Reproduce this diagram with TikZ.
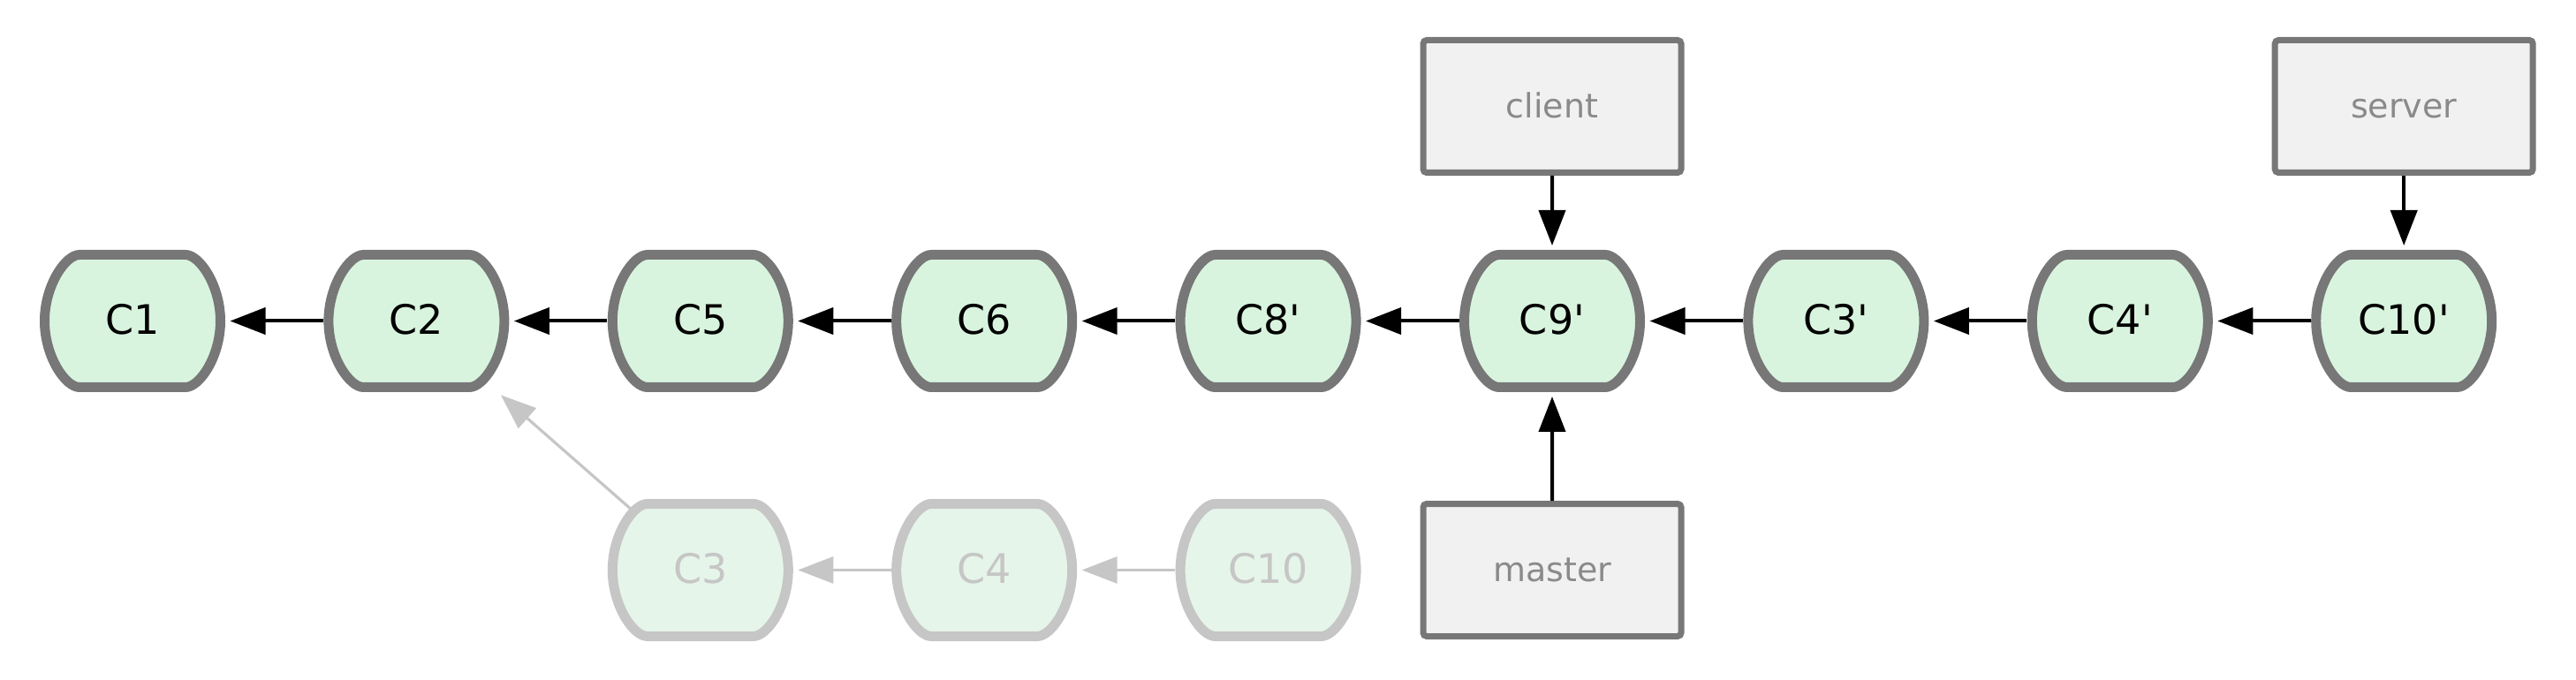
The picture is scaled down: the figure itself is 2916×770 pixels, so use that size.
\documentclass[tikz,border=0pt]{standalone}
\usepackage{fontspec}
\setmainfont{DejaVu Sans}
\usetikzlibrary{arrows.meta}

\definecolor{commitfill}{HTML}{D9F4DE}
\definecolor{commitline}{HTML}{777777}
\definecolor{ghostfill}{HTML}{E6F5E9}
\definecolor{ghostline}{HTML}{C6C6C6}
\definecolor{branchfill}{HTML}{F1F1F1}
\definecolor{branchtext}{HTML}{8A8A8A}

\begin{document}
\begin{tikzpicture}[x=0.25pt, y=-0.25pt,
  commit/.style={rectangle, minimum width=52.75pt, minimum height=40.25pt, inner sep=0pt, outer sep=0pt,
    text height=1.55ex, text depth=0.2ex, font=\fontsize{11.5}{13}\selectfont},
  ghost/.style={commit, text=ghostline},
  barrel/.style={draw=commitline, fill=commitfill, line width=2.75pt, line join=round},
  ghostbarrel/.style={barrel, draw=ghostline, fill=ghostfill},
  branch/.style={rectangle, rounded corners=1pt, draw=commitline, fill=branchfill, line width=1.75pt,
    minimum width=73pt, minimum height=37.5pt, text=branchtext, text height=1.5ex, text depth=0.3ex,
    font=\fontsize{9.5}{11}\selectfont},
  parent/.style={-{Triangle[length=10pt,width=7.5pt]}, line width=1pt, shorten >=1.25pt},
  ghostparent/.style={parent, color=ghostline, line width=0.8pt},
]

\useasboundingbox (0,0) rectangle (2916,770);

% rebased line
\foreach \n/\t [count=\i from 0] in {c1/C1, c2/C2, c5/C5, c6/C6, c8p/C8\textquotesingle, c9p/C9\textquotesingle,
    c3p/C3\textquotesingle, c4p/C4\textquotesingle, c10p/C10\textquotesingle} {
\filldraw[barrel, shift={(150+321.4*\i, 363.5)}] (-60,-75) -- (60,-75)
  .. controls (76,-75) and (99.5,-40) .. (99.5,0) .. controls (99.5,40) and (76,75) .. (60,75)
  -- (-60,75) .. controls (-76,75) and (-99.5,40) .. (-99.5,0) .. controls (-99.5,-40) and (-76,-75) .. cycle;
\node[commit] (\n) at (150+321.4*\i, 363.5) {\t};
}

\foreach \a/\b in {c2/c1, c5/c2, c6/c5, c8p/c6, c9p/c8p, c3p/c9p, c4p/c3p, c10p/c4p} {
\path[parent] (\a) edge (\b);
}

% old commits
\foreach \n/\t [count=\i from 2] in {g3/C3, g4/C4, g10/C10} {
\filldraw[ghostbarrel, shift={(150+321.4*\i, 645.5)}] (-60,-75) -- (60,-75)
  .. controls (76,-75) and (99.5,-40) .. (99.5,0) .. controls (99.5,40) and (76,75) .. (60,75)
  -- (-60,75) .. controls (-76,75) and (-99.5,40) .. (-99.5,0) .. controls (-99.5,-40) and (-76,-75) .. cycle;
\node[ghost] (\n) at (150+321.4*\i, 645.5) {\t};
}

\path[ghostparent] (g3) edge[shorten <=-4pt] (c2);
\path[ghostparent] (g4) edge (g3);
\path[ghostparent] (g10) edge (g4);

% branches
\node[branch] (client) at (1757, 120.5) {client};
\node[branch] (server) at (2721.2, 120.5) {server};
\node[branch] (master) at (1757, 645.5) {master};

\path[parent] (client) edge (c9p);
\path[parent] (server) edge (c10p);
\path[parent] (master) edge (c9p);

\end{tikzpicture}
\end{document}
